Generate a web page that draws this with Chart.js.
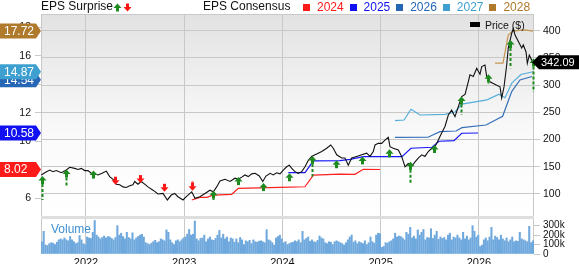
<!DOCTYPE html>
<html>
<head>
<meta charset="utf-8">
<title>EPS Surprise and Consensus</title>
<script src="https://cdn.jsdelivr.net/npm/chart.js@4.4.1/dist/chart.umd.min.js"></script>
<style>
    body { margin: 0; background: #fff; }
    #chart { position: relative; width: 579px; height: 264px; overflow: hidden; font-family: "Liberation Sans", Arial, sans-serif; color: #111; }
    #chart canvas { position: absolute; left: 0; }
    #priceCanvas { top: 0; }
    #volCanvas { top: 216px; }
    .lbl { position: absolute; white-space: nowrap; font-size: 12px; line-height: 14px; }
    #legend { position: absolute; left: 303px; top: 0; display: flex; font-size: 12px; line-height: 14px; }
    #legend span.item { display: inline-flex; align-items: center; width: 46.6px; }
    #legend span.box { display: inline-block; width: 7px; height: 7px; margin-right: 7px; }
</style>
</head>
<body>
<div id="chart">
    <canvas id="priceCanvas" width="579" height="218"></canvas>
    <canvas id="volCanvas" width="579" height="48"></canvas>
    <div class="lbl" style="left:41px;top:-1px">EPS Surprise</div>
    <div class="lbl" style="left:203px;top:-1px">EPS Consensus</div>
    <div id="legend"></div>
    <div style="position:absolute;left:470px;top:22px;width:10px;height:5px;background:#000"></div>
    <div class="lbl" style="left:485px;top:18px;font-size:10.5px">Price ($)</div>
    <div class="lbl" style="left:51px;top:222px;color:#3f8fd2">Volume</div>
</div>
<script>
// weekly-ish closing price, decimal years
var priceDates = [2021.545, 2021.580, 2021.631, 2021.664, 2021.698, 2021.749, 2021.800, 2021.834, 2021.885, 2021.919,
    2021.952, 2021.987, 2022.020, 2022.054, 2022.089, 2022.122, 2022.163, 2022.207, 2022.241, 2022.275,
    2022.308, 2022.343, 2022.377, 2022.410, 2022.445, 2022.478, 2022.496, 2022.529, 2022.563, 2022.597,
    2022.631, 2022.682, 2022.733, 2022.784, 2022.828, 2022.868, 2022.903, 2022.936, 2022.987, 2023.021,
    2023.076, 2023.109, 2023.160, 2023.211, 2023.262, 2023.296, 2023.330, 2023.364, 2023.415, 2023.466,
    2023.517, 2023.550, 2023.585, 2023.618, 2023.652, 2023.687, 2023.721, 2023.764, 2023.799, 2023.832,
    2023.873, 2023.906, 2023.941, 2023.975, 2024.008, 2024.043, 2024.069, 2024.094, 2024.127, 2024.161,
    2024.196, 2024.229, 2024.263, 2024.297, 2024.331, 2024.364, 2024.399, 2024.450, 2024.491, 2024.517,
    2024.552, 2024.603, 2024.636, 2024.670, 2024.704, 2024.755, 2024.806, 2024.857, 2024.891, 2024.924,
    2024.942, 2024.975, 2025.010, 2025.043, 2025.077, 2025.094, 2025.128, 2025.179, 2025.213, 2025.247,
    2025.280, 2025.315, 2025.349, 2025.382, 2025.417, 2025.450, 2025.484, 2025.519, 2025.552, 2025.586,
    2025.620, 2025.654, 2025.688, 2025.722, 2025.756, 2025.789, 2025.824, 2025.858, 2025.891, 2025.908,
    2025.942, 2025.977, 2026.010, 2026.028, 2026.061, 2026.078, 2026.112, 2026.146, 2026.180, 2026.214,
    2026.231, 2026.255, 2026.282, 2026.298, 2026.333, 2026.349, 2026.367, 2026.401, 2026.435, 2026.451,
    2026.479, 2026.492, 2026.512, 2026.537, 2026.560];
var priceValues = [135, 139, 144, 141, 143, 139, 144, 149, 147, 145,
    147, 143, 143, 138, 137, 135, 138, 142, 132, 127,
    118, 117, 113, 112, 115, 117, 123, 118, 123, 118,
    113, 107, 100, 101, 89, 98, 101, 95, 89, 95,
    104, 92, 95, 101, 107, 104, 113, 124, 127, 123,
    129, 127, 131, 135, 132, 137, 138, 133, 123, 133,
    138, 135, 139, 137, 144, 150, 153, 147, 141, 138,
    141, 150, 162, 169, 172, 175, 178, 184, 190, 184,
    172, 166, 166, 153, 166, 169, 172, 175, 169, 178,
    190, 193, 193, 199, 204, 187, 184, 181, 169, 150,
    156, 151, 159, 166, 172, 169, 178, 184, 187, 199,
    212, 224, 245, 254, 242, 260, 279, 283, 306, 319,
    316, 331, 320, 334, 337, 316, 306, 303, 300, 297,
    276, 297, 337, 368, 395, 404, 392, 380, 368, 374,
    361, 340, 355, 346, 342.09];

// EPS consensus by fiscal year
var epsYears = ['2024', '2025', '2026', '2027', '2028'];
var epsColors = ['#ff2020', '#1616f8', '#3570b8', '#55aedb', '#c49550'];
var badgeColors = ['#ff1a1a', '#1010f2', '#2566b5', '#3ea0d0', '#b07a2c'];
var eps2024Dates = [2023.076, 2023.160, 2023.229, 2023.296, 2023.483, 2023.550, 2023.975, 2024.229, 2024.314, 2024.585, 2024.738, 2024.822, 2024.993];
var eps2024 = [5.88, 6.07, 6.07, 6.23, 6.28, 6.70, 6.77, 6.81, 7.63, 7.70, 7.68, 8.03, 8.02];
var eps2025Dates = [2024.059, 2024.229, 2024.314, 2024.585, 2024.687, 2024.822, 2025.216, 2025.308, 2025.522, 2025.593, 2025.746, 2025.824, 2025.990];
var eps2025 = [7.80, 7.80, 8.62, 8.64, 8.73, 8.92, 8.92, 9.51, 9.58, 10.00, 10.04, 10.56, 10.58];
var eps2026Dates = [2025.145, 2025.481, 2025.603, 2025.766, 2025.827, 2026.071, 2026.241, 2026.333, 2026.417, 2026.539];
var eps2026 = [10.27, 10.28, 10.67, 10.72, 10.95, 11.14, 11.75, 13.48, 14.30, 14.54];
var eps2027Dates = [2025.145, 2025.237, 2025.308, 2025.400, 2025.654, 2025.756, 2025.827, 2026.081, 2026.204, 2026.265, 2026.336, 2026.427, 2026.550];
var eps2027 = [11.45, 11.49, 12.24, 11.84, 11.89, 12.05, 12.60, 12.90, 13.30, 13.05, 14.10, 14.68, 14.87];
var eps2028Dates = [2026.163, 2026.244, 2026.298, 2026.336, 2026.387, 2026.468, 2026.550];
var eps2028 = [15.47, 15.47, 17.45, 17.68, 17.75, 17.80, 17.72];

// EPS surprise markers: arrow tip and tail, in price units
var surpriseDates = [2021.552, 2021.800, 2022.071, 2022.298, 2022.547, 2022.794, 2023.076, 2023.296, 2023.550, 2023.799, 2024.066,
    2024.300, 2024.544, 2024.812, 2025.084, 2025.298, 2025.545, 2025.814, 2026.089, 2026.316, 2026.547];
var surpriseTip = [133, 145, 143, 117, 120, 104, 106, 106, 131, 120, 138, 170, 162, 169, 182, 159, 190, 279, 320, 383, 349];
var surpriseTail = [89, 112, 127, 131, 132, 120, 123, 89, 117, 104, 124, 132, 150, 153, 169, 117, 175, 245, 303, 331, 288];

// weekly volume (thousands), first week 2021.55
var volStart = 2021.55;
var volValues = [130, 240, 95, 90, 110, 120, 115, 100, 125, 150,
    160, 150, 170, 150, 140, 185, 150, 130, 110, 120,
    195, 150, 110, 100, 180, 170, 165, 230, 355, 200,
    180, 160, 175, 190, 170, 185, 180, 165, 150, 175,
    300, 200, 220, 185, 160, 230, 175, 160, 225, 150,
    170, 185, 200, 210, 180, 120, 110, 100, 115, 130,
    145, 120, 130, 160, 150, 140, 255, 230, 150, 120,
    100, 140, 150, 130, 150, 170, 180, 210, 260, 200,
    210, 350, 160, 140, 165, 170, 200, 130, 160, 180,
    150, 145, 165, 200, 250, 170, 210, 160, 180, 130,
    170, 160, 125, 160, 120, 175, 150, 100, 140, 130,
    145, 110, 150, 130, 125, 135, 140, 130, 120, 258,
    150, 140, 120, 95, 170, 185, 200, 160, 120, 130,
    100, 110, 120, 125, 140, 130, 150, 120, 240, 150,
    165, 180, 135, 150, 130, 125, 145, 190, 170, 160,
    120, 110, 130, 125, 100, 130, 140, 130, 120, 110,
    95, 120, 150, 180, 200, 125, 140, 110, 130, 120,
    110, 140, 100, 120, 180, 130, 115, 200, 220, 215,
    70, 80, 120, 115, 130, 140, 160, 220, 180, 190,
    185, 170, 150, 230, 210, 282, 170, 190, 160, 255,
    200, 230, 260, 150, 175, 170, 268, 165, 200, 240,
    155, 180, 165, 175, 150, 200, 220, 150, 180, 170,
    200, 170, 150, 230, 160, 190, 150, 170, 300, 240,
    180, 200, 80, 95, 150, 170, 140, 180, 282, 150,
    190, 175, 150, 200, 160, 140, 170, 130, 150, 180,
    130, 140, 135, 230, 160, 150, 140, 130, 293, 120,
    140];

var xMin = 2021.542, xMax = 2026.56;
var FONT = '"Liberation Sans", Arial, sans-serif';
var GRID = '#c8c8c8';

function points(dates, values) {
    var out = [];
    for (var i = 0; i < dates.length; ++i) out.push({ x: dates[i], y: values[i] });
    return out;
}

var Draw = {
    Arrow: function (ctx, x, yTip, yTail) {
        var dir = yTail > yTip ? 1 : -1;
        var color = dir > 0 ? '#1d8a1d' : '#ff1414';
        ctx.save();
        ctx.fillStyle = color;
        ctx.beginPath();
        ctx.moveTo(x, yTip);
        ctx.lineTo(x - 4, yTip + dir * 4.5);
        ctx.lineTo(x + 4, yTip + dir * 4.5);
        ctx.closePath();
        ctx.fill();
        ctx.fillRect(x - 1.5, dir > 0 ? yTip + 4 : yTip - 8, 3, 4);
        var yEnd = yTip + dir * 8;
        if ((yTail - yEnd) * dir > 1) {
            ctx.strokeStyle = color;
            ctx.lineWidth = 2;
            ctx.setLineDash([3, 2]);
            ctx.beginPath();
            ctx.moveTo(x, yEnd);
            ctx.lineTo(x, yTail);
            ctx.stroke();
        }
        ctx.restore();
    },
    LeftBadge: function (ctx, y, text, color) {
        ctx.fillStyle = color;
        ctx.beginPath();
        ctx.moveTo(0, y - 7.5);
        ctx.lineTo(36, y - 7.5);
        ctx.lineTo(41, y);
        ctx.lineTo(36, y + 7.5);
        ctx.lineTo(0, y + 7.5);
        ctx.closePath();
        ctx.fill();
        ctx.fillStyle = '#fff';
        ctx.font = '12px ' + FONT;
        ctx.textAlign = 'left';
        ctx.textBaseline = 'middle';
        ctx.fillText(text, 4, y + 0.5);
    },
    RightBadge: function (ctx, x, y, text) {
        ctx.fillStyle = '#000';
        ctx.beginPath();
        ctx.moveTo(x, y);
        ctx.lineTo(x + 7, y - 7);
        ctx.lineTo(579, y - 7);
        ctx.lineTo(579, y + 7);
        ctx.lineTo(x + 7, y + 7);
        ctx.closePath();
        ctx.fill();
        ctx.fillStyle = '#fff';
        ctx.font = '11px ' + FONT;
        ctx.textAlign = 'left';
        ctx.textBaseline = 'middle';
        ctx.fillText(text, x + 9, y + 0.5);
    }
};

var Form = {
    Init: function () {
        Form.Legend();
        Form.PriceChart();
        Form.VolumeChart();
    },
    Legend: function () {
        var html = '';
        for (var i = 0; i < epsYears.length; ++i) {
            html += '<span class="item" style="color:' + badgeColors[i] + '"><span class="box" style="background:' + badgeColors[i] + '"></span>' + epsYears[i] + '</span>';
        }
        document.getElementById('legend').innerHTML = html;
    },
    PriceChart: function () {
        var series = [[eps2024Dates, eps2024], [eps2025Dates, eps2025], [eps2026Dates, eps2026], [eps2027Dates, eps2027], [eps2028Dates, eps2028]];
        var datasets = [{
            label: 'Price ($)',
            data: points(priceDates, priceValues),
            yAxisID: 'yPrice',
            borderColor: '#111',
            borderWidth: 1.1,
            pointRadius: 0,
            tension: 0
        }];
        for (var i = 0; i < series.length; ++i) {
            datasets.push({
                label: epsYears[i],
                data: points(series[i][0], series[i][1]),
                yAxisID: 'yEps',
                borderColor: epsColors[i],
                borderWidth: 1.2,
                pointRadius: 0,
                tension: 0
            });
        }

        var overlay = {
            id: 'overlay',
            beforeDraw: function (chart) {
                var a = chart.chartArea, ctx = chart.ctx;
                var g = ctx.createLinearGradient(0, a.top, 0, a.bottom);
                g.addColorStop(0, '#e2e2e2');
                g.addColorStop(0.6, '#fafafa');
                g.addColorStop(1, '#ffffff');
                ctx.save();
                ctx.fillStyle = g;
                ctx.fillRect(a.left, a.top, a.right - a.left, a.bottom - a.top);
                ctx.restore();
            },
            beforeDatasetsDraw: function (chart) {
                var a = chart.chartArea, ctx = chart.ctx;
                ctx.save();
                ctx.strokeStyle = GRID;
                ctx.lineWidth = 1;
                ctx.strokeRect(a.left + 0.5, a.top + 0.5, a.right - a.left - 1, a.bottom - a.top);
                ctx.restore();
            },
            afterDatasetsDraw: function (chart) {
                var x = chart.scales.x, y = chart.scales.yPrice, ctx = chart.ctx;
                for (var i = 0; i < surpriseDates.length; ++i) {
                    Draw.Arrow(ctx, Math.round(x.getPixelForValue(surpriseDates[i])) + 0.5,
                        y.getPixelForValue(surpriseTip[i]), y.getPixelForValue(surpriseTail[i]));
                }
            },
            afterDraw: function (chart) {
                var ctx = chart.ctx, yE = chart.scales.yEps, yP = chart.scales.yPrice;
                // consensus badges, nudged apart when they overlap
                var ys = [];
                for (var i = 0; i < series.length; ++i) {
                    var v = series[i][1][series[i][1].length - 1];
                    ys.push({ i: i, v: v, y: yE.getPixelForValue(v) });
                }
                var sorted = ys.slice().sort(function (a, b) { return a.y - b.y; });
                for (var k = 1; k < sorted.length; ++k) {
                    if (sorted[k].y - sorted[k - 1].y < 8) sorted[k].y = sorted[k - 1].y + 8;
                }
                for (var j = 0; j < ys.length; ++j) {
                    Draw.LeftBadge(ctx, ys[j].y, ys[j].v.toFixed(2), badgeColors[ys[j].i]);
                }
                var last = priceValues[priceValues.length - 1];
                Draw.RightBadge(ctx, 532, yP.getPixelForValue(last), last.toFixed(2));
                // header icons
                Draw.Arrow(ctx, 117.5, 3.5, 11.5);
                Draw.Arrow(ctx, 127.5, 11.5, 3.5);
            }
        };

        new Chart(document.getElementById('priceCanvas'), {
            type: 'line',
            data: { datasets: datasets },
            options: {
                responsive: false,
                animation: false,
                events: [],
                layout: { padding: { top: 14, bottom: 1, left: 0, right: 0 } },
                plugins: { legend: { display: false }, tooltip: { enabled: false } },
                scales: {
                    x: {
                        type: 'linear', min: xMin, max: xMax,
                        ticks: { display: false, stepSize: 1, includeBounds: false },
                        grid: { color: GRID, drawTicks: false },
                        border: { display: false },
                        afterFit: function (s) { s.height = 0; s.paddingLeft = 0; s.paddingRight = 0; }
                    },
                    yEps: {
                        position: 'left', min: 4.69, max: 18.92,
                        ticks: { stepSize: 2, includeBounds: false, autoSkip: false, padding: 4, color: '#111', font: { family: FONT, size: 10.5 } },
                        grid: { drawOnChartArea: false, tickLength: 6, color: GRID },
                        border: { display: false },
                        afterFit: function (s) { s.width = 41; s.paddingTop = 0; s.paddingBottom = 0; }
                    },
                    yPrice: {
                        position: 'right', min: 57.7, max: 430.7,
                        ticks: { stepSize: 50, includeBounds: false, autoSkip: false, padding: 3, color: '#111', font: { family: FONT, size: 10.5 } },
                        grid: { color: GRID, tickLength: 6 },
                        border: { display: false },
                        afterFit: function (s) { s.width = 45; s.paddingTop = 0; s.paddingBottom = 0; }
                    }
                }
            },
            plugins: [overlay]
        });
    },
    VolumeChart: function () {
        var data = [];
        for (var i = 0; i < volValues.length; ++i) data.push({ x: volStart + i / 52, y: volValues[i] });

        var frame = {
            id: 'frame',
            beforeDraw: function (chart) {
                var a = chart.chartArea, ctx = chart.ctx;
                ctx.save();
                ctx.fillStyle = '#dedede';
                ctx.fillRect(a.left, a.top - 3, a.right - a.left, 3);
                ctx.restore();
            },
            beforeDatasetsDraw: function (chart) {
                var a = chart.chartArea, ctx = chart.ctx;
                ctx.save();
                ctx.strokeStyle = GRID;
                ctx.beginPath();
                ctx.moveTo(a.left + 0.5, a.top);
                ctx.lineTo(a.left + 0.5, a.bottom);
                ctx.moveTo(a.right - 0.5, a.top);
                ctx.lineTo(a.right - 0.5, a.bottom);
                ctx.stroke();
                ctx.restore();
            }
        };

        new Chart(document.getElementById('volCanvas'), {
            type: 'bar',
            data: { datasets: [{ label: 'Volume', data: data, backgroundColor: '#6ea8dd', barThickness: 1.4 }] },
            options: {
                responsive: false,
                animation: false,
                events: [],
                layout: { padding: { top: 3, left: 41, right: 0, bottom: 0 } },
                plugins: { legend: { display: false }, tooltip: { enabled: false } },
                scales: {
                    x: {
                        type: 'linear', min: xMin, max: xMax, offset: false,
                        ticks: {
                            stepSize: 1, includeBounds: false, autoSkip: false, padding: 2, maxRotation: 0, color: '#111',
                            font: { family: FONT, size: 11 },
                            callback: function (v) { return String(v); }
                        },
                        grid: { color: GRID, drawTicks: false, offset: false },
                        border: { display: false },
                        afterFit: function (s) { s.height = 10; s.paddingLeft = 0; s.paddingRight = 0; }
                    },
                    y: {
                        position: 'right', min: 0, max: 371,
                        ticks: {
                            stepSize: 100, includeBounds: false, autoSkip: false, padding: 3, color: '#111', font: { family: FONT, size: 10 },
                            callback: function (v) { return v === 0 ? '0' : v + 'k'; }
                        },
                        grid: { drawOnChartArea: false, tickLength: 6, color: GRID },
                        border: { display: false },
                        afterFit: function (s) { s.width = 45; s.paddingTop = 0; s.paddingBottom = 0; }
                    }
                }
            },
            plugins: [frame]
        });
    }
};

Form.Init();
</script>
</body>
</html>
